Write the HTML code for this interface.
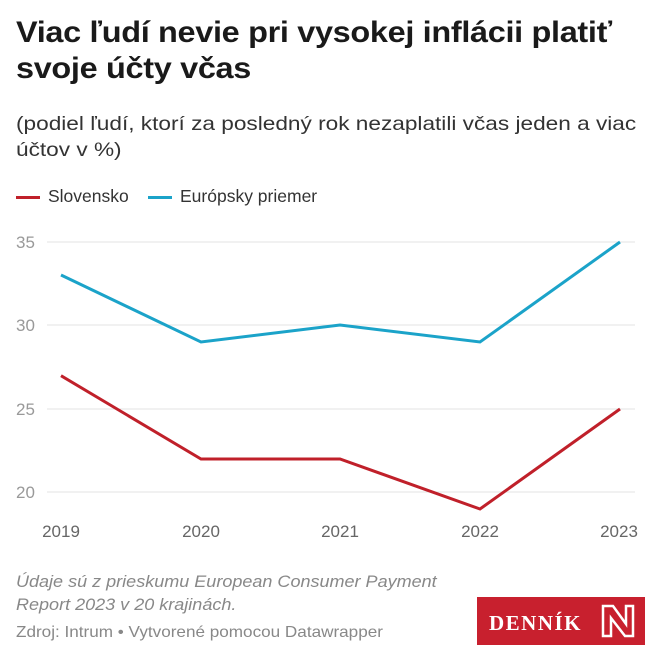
<!DOCTYPE html>
<html><head><meta charset="utf-8"><style>
body{margin:0;width:660px;height:660px;background:#fff;font-family:"Liberation Sans",sans-serif;position:relative;overflow:hidden}
div{transform-origin:0 0;white-space:nowrap}
.t{position:absolute;left:16px;top:15px;font-size:29.5px;font-weight:bold;line-height:36px;color:#1a1a1a;letter-spacing:-0.3px;transform:scaleX(1.1)}
.s{position:absolute;left:16px;top:111px;font-size:19.5px;line-height:26px;color:#333;transform:scaleX(1.16)}
.lg{position:absolute;top:186px;font-size:17.5px;color:#333}
.n{position:absolute;left:16px;top:570px;font-size:17px;line-height:23px;font-style:italic;color:#888;transform:scaleX(1.06)}
.z{position:absolute;left:16px;top:624px;font-size:16px;color:#888;transform:scaleX(1.07)}
</style></head><body>
<div class="t">Viac ľudí nevie pri vysokej inflácii platiť<br>svoje účty včas</div>
<div class="s">(podiel ľudí, ktorí za posledný rok nezaplatili včas jeden a viac<br>účtov v %)</div>
<div class="lg" style="left:16px"><span style="display:inline-block;width:24px;height:3px;background:#c0202a;vertical-align:middle;margin-right:8px"></span>Slovensko</div>
<div class="lg" style="left:148px"><span style="display:inline-block;width:24px;height:3px;background:#1ba3c9;vertical-align:middle;margin-right:8px"></span>Európsky priemer</div>
<svg style="position:absolute;left:0;top:0" width="660" height="660">
<g stroke="#e3e3e3" stroke-width="1">
<line x1="47" x2="635" y1="242" y2="242"/><line x1="47" x2="635" y1="325" y2="325"/>
<line x1="47" x2="635" y1="409" y2="409"/><line x1="47" x2="635" y1="492" y2="492"/></g>
<g font-family="Liberation Sans" font-size="17" fill="#999">
<text x="16" y="248">35</text><text x="16" y="331">30</text><text x="16" y="415">25</text><text x="16" y="498">20</text></g>
<g font-family="Liberation Sans" font-size="17" fill="#666" text-anchor="middle">
<text x="61" y="537">2019</text><text x="201" y="537">2020</text><text x="340" y="537">2021</text><text x="480" y="537">2022</text><text x="619" y="537">2023</text></g>
<polyline fill="none" stroke="#1ba3c9" stroke-width="3" points="61,275 201,342 340,325 480,342 620,242"/>
<polyline fill="none" stroke="#c0202a" stroke-width="3" points="61,375.7 201,459 340,459 480,509 620,409"/>
<rect x="477" y="597" width="168" height="48" fill="#c8202e"/>
<text x="489" y="630" font-family="Liberation Serif" font-weight="bold" font-size="21" fill="#fff" letter-spacing="1.5">DENNÍK</text>
<path d="M603 606 h10 l13 18 v-18 h7 v30 h-8 l-14 -18 v18 h-8z" fill="none" stroke="#fff" stroke-width="2.5"/>
</svg>
<div class="n">Údaje sú z prieskumu European Consumer Payment<br>Report 2023 v 20 krajinách.</div>
<div class="z">Zdroj: Intrum • Vytvorené pomocou Datawrapper</div>
</body></html>
